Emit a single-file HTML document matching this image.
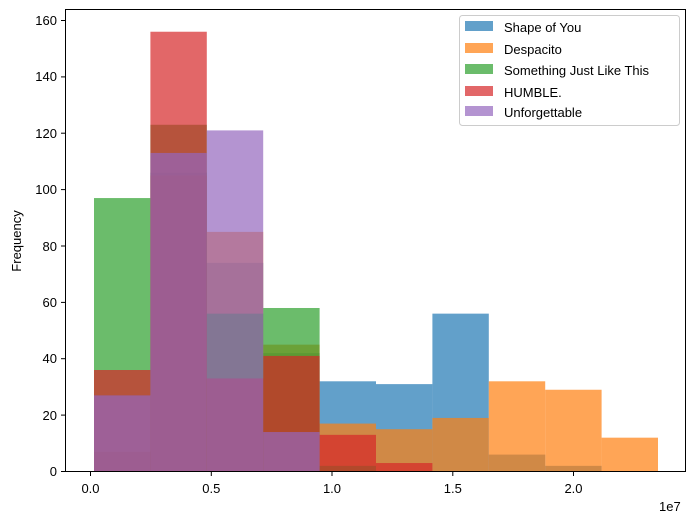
<!DOCTYPE html>
<html><head><meta charset="utf-8"><style>
body{margin:0;background:#fff}
text{font-family:"Liberation Sans","DejaVu Sans",sans-serif;font-size:13px;fill:#000}
</style></head><body>
<svg id="s" width="695" height="523" xmlns="http://www.w3.org/2000/svg">
<rect width="695" height="523" fill="#fff"/>
<g id="bars"></g>
<rect x="65.5" y="9.5" width="620" height="462" fill="none" stroke="#000" stroke-width="1"/>
<g stroke="#000">
<line x1="65.5" x2="61" y1="471.5" y2="471.5"/><line x1="65.5" x2="61" y1="415.1" y2="415.1"/><line x1="65.5" x2="61" y1="358.7" y2="358.7"/><line x1="65.5" x2="61" y1="302.4" y2="302.4"/><line x1="65.5" x2="61" y1="246" y2="246"/><line x1="65.5" x2="61" y1="189.6" y2="189.6"/><line x1="65.5" x2="61" y1="133.2" y2="133.2"/><line x1="65.5" x2="61" y1="76.9" y2="76.9"/><line x1="65.5" x2="61" y1="20.5" y2="20.5"/>
<line x1="90.5" x2="90.5" y1="471.5" y2="476"/><line x1="211.3" x2="211.3" y1="471.5" y2="476"/><line x1="332" x2="332" y1="471.5" y2="476"/><line x1="452.8" x2="452.8" y1="471.5" y2="476"/><line x1="573.5" x2="573.5" y1="471.5" y2="476"/>
</g>
<g text-anchor="end">
<text x="57" y="476">0</text><text x="57" y="420">20</text><text x="57" y="363">40</text><text x="57" y="307">60</text><text x="57" y="251">80</text><text x="57" y="194">100</text><text x="57" y="138">120</text><text x="57" y="81">140</text><text x="57" y="25">160</text>
</g>
<g text-anchor="middle">
<text x="90.5" y="493">0.0</text><text x="211.3" y="493">0.5</text><text x="332" y="493">1.0</text><text x="452.8" y="493">1.5</text><text x="573.5" y="493">2.0</text>
</g>
<text x="659" y="511">1e7</text>
<text transform="translate(21,241) rotate(-90)" text-anchor="middle">Frequency</text>
<rect x="459.5" y="15.5" width="220" height="110" rx="3" fill="#fff" fill-opacity="0.8" stroke="#ccc"/>
<g id="leg"></g>
<text x="504" y="32">Shape of You</text>
<text x="504" y="54">Despacito</text>
<text x="504" y="75">Something Just Like This</text>
<text x="504" y="97">HUMBLE.</text>
<text x="504" y="117">Unforgettable</text>
</svg>
<script>
var cols=["#1f77b4","#ff7f0e","#2ca02c","#d62728","#9467bd"];
var data=[
[7,106,74,42,32,31,56,6,2,0],
[7,105,85,45,17,15,19,32,29,12],
[97,123,56,58,2,0,0,0,0,0],
[36,156,33,41,13,3,0,0,0,0],
[27,113,121,14,0,0,0,0,0,0]];
var g=document.getElementById("bars"),h="";
for(var s=0;s<5;s++)for(var i=0;i<10;i++){var v=data[s][i];if(!v)continue;
var x=94+i*56.4,y=471.5-2.819*v;
h+='<rect x="'+x+'" y="'+y+'" width="56.4" height="'+(471.5-y)+'" fill="'+cols[s]+'" fill-opacity="0.7"/>';}
g.innerHTML=h;
var l="";for(var s=0;s<5;s++){var yy=[21,43,64,86,106][s];l+='<rect x="465" y="'+yy+'" width="28" height="10" fill="'+cols[s]+'" fill-opacity="0.7"/>';}
document.getElementById("leg").innerHTML=l;
</script>
</body></html>
